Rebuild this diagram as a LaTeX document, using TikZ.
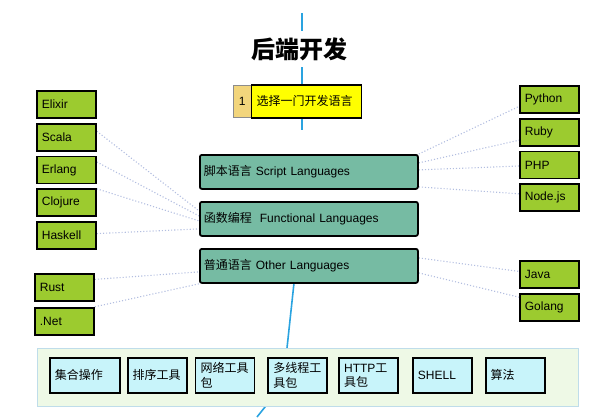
\documentclass[tikz,border=0pt]{standalone}
\usepackage{fontspec}
\setmainfont{Liberation Sans}
\newfontfamily\cjk{Noto Sans CJK SC}
\usetikzlibrary{positioning}
\pgfdeclarelayer{bg}
\pgfsetlayers{bg,main}

\definecolor{langgreen}{HTML}{9CCB2F}
\definecolor{groupteal}{HTML}{76BBA3}
\definecolor{pickyellow}{HTML}{FFFF00}
\definecolor{numtan}{HTML}{F2D57C}
\definecolor{toolcyan}{HTML}{C8F4FA}
\definecolor{panelgreen}{HTML}{EEF9E6}
\definecolor{panelline}{HTML}{BFDDEA}
\definecolor{trunkblue}{HTML}{2AA3E0}
\definecolor{linkgrey}{HTML}{B3BEE0}

\tikzset{
  boxtext/.style = {font=\fontsize{12}{14.5}\selectfont, align=left},
  lang/.style = {
    boxtext, draw, line width=1.8pt, fill=langgreen,
    text width=49pt, inner xsep=5pt, minimum height=27pt,
  },
  group/.style = {
    boxtext, draw, line width=1.8pt, rounded corners=2pt, fill=groupteal,
    text width=210pt, inner xsep=4pt, minimum height=34pt,
  },
  tool/.style = {
    boxtext, draw, line width=1.8pt, fill=toolcyan,
    text width=49pt, inner xsep=5pt, minimum height=35pt,
  },
  link/.style = {linkgrey, line width=1.1pt, dotted},
  trunk/.style = {trunkblue, line width=1.6pt},
}

\begin{document}
\begin{tikzpicture}[x=1pt, y=-1pt]
  \useasboundingbox (0,0) rectangle (612,417);

  % title and the first choice
  \node[font=\cjk\bfseries\fontsize{24}{28}\selectfont, fill=white, inner sep=6pt]
    (title) at (299,49) {后端开发};
  \node[boxtext, draw=black!45, line width=0.6pt, fill=numtan,
        anchor=north west, minimum width=18pt, minimum height=32pt, inner xsep=2pt]
    (num) at (233,85) {1};
  \node[boxtext, draw, line width=1.8pt, fill=pickyellow,
        minimum width=110pt, minimum height=33pt, text width=100pt, inner xsep=5pt,
        right=-1pt of num]
    (pick) {{\cjk 选择一门开发语言}};

  % language groups
  \node[group, anchor=north west] (script) at (199,154) {{\cjk 脚本语言} Script Languages};
  \node[group, anchor=north west] (func)   at (199,201) {{\cjk 函数编程}\ \ Functional Languages};
  \node[group, anchor=north west] (other)  at (199,248) {{\cjk 普通语言} Other Languages};

  % left column
  \node[lang, anchor=north west] (elixir) at (36,90) {Elixir};
  \node[lang, below=4pt of elixir]  (scala)   {Scala};
  \node[lang, below=4pt of scala]   (erlang)  {Erlang};
  \node[lang, below=4pt of erlang]  (clojure) {Clojure};
  \node[lang, below=4pt of clojure] (haskell) {Haskell};
  \node[lang, anchor=north west] (rust) at (34,273) {Rust};
  \node[lang, below=5pt of rust]    (dotnet)  {.Net};

  % right column
  \node[lang, anchor=north west] (python) at (519,85) {Python};
  \node[lang, below=4pt of python]  (ruby)    {Ruby};
  \node[lang, below=4pt of ruby]    (php)     {PHP};
  \node[lang, below=4pt of php]     (nodejs)  {Node.js};
  \node[lang, anchor=north west] (java) at (519,260) {Java};
  \node[lang, below=4pt of java]    (golang)  {Golang};

  % tool panel
  \node[draw=panelline, fill=panelgreen, line width=0.8pt, anchor=north west,
        minimum width=541pt, minimum height=58pt]
    (panel) at (37,348) {};
  \node[tool, text width=60pt, anchor=north west] (setops) at (49,357) {{\cjk 集合操作}};
  \node[tool, right=6pt of setops] (sorting) {{\cjk 排序工具}};
  \node[tool, right=7pt of sorting] (network) {{\cjk 网络工具}\\{\cjk 包}};
  \node[tool, right=12pt of network] (threads) {{\cjk 多线程工}\\{\cjk 具包}};
  \node[tool, right=10pt of threads] (http) {HTTP{\cjk 工}\\{\cjk 具包}};
  \node[tool, right=13pt of http] (shell) {SHELL};
  \node[tool, right=12pt of shell] (algo) {{\cjk 算法}};

  \coordinate (trunktop)  at (302,13);
  \coordinate (trunkmid)  at (302,130);
  \coordinate (trunklow)  at (294,283);
  \coordinate (trunkbend) at (287,348);
  \coordinate (trunkknee) at (265,407);
  \coordinate (trunkend)  at (257,417);

  \begin{pgfonlayer}{bg}
    \draw[trunk] (trunktop) -- (trunkmid);
    \draw[trunk] (trunklow) -- (trunkbend) -- (trunkknee) -- (trunkend);

    \draw[link] ([yshift=6pt]scala.east)    -- ([yshift=8pt]func.west);
    \draw[link] ([yshift=8pt]erlang.east)   -- ([yshift=3pt]func.west);
    \draw[link] ([yshift=14pt]clojure.east) -- ([yshift=-2pt]func.west);
    \draw[link] ([yshift=2pt]haskell.east)  -- ([yshift=-10pt]func.west);
    \draw[link] ([yshift=8pt]rust.east)     -- ([yshift=-6pt]other.west);
    \draw[link] (dotnet.north east)         -- (other.south west);

    \draw[link] (script.north east)         -- ([yshift=-7pt]python.west);
    \draw[link] ([yshift=9pt]script.east)   -- ([yshift=-8pt]ruby.west);
    \draw[link] ([yshift=2pt]script.east)   -- ([yshift=-1pt]php.west);
    \draw[link] ([yshift=-15pt]script.east) -- ([yshift=4pt]nodejs.west);
    \draw[link] ([yshift=8pt]other.east)    -- ([yshift=3pt]java.west);
    \draw[link] ([yshift=-7pt]other.east)   -- ([yshift=10pt]golang.west);
  \end{pgfonlayer}
\end{tikzpicture}
\end{document}
